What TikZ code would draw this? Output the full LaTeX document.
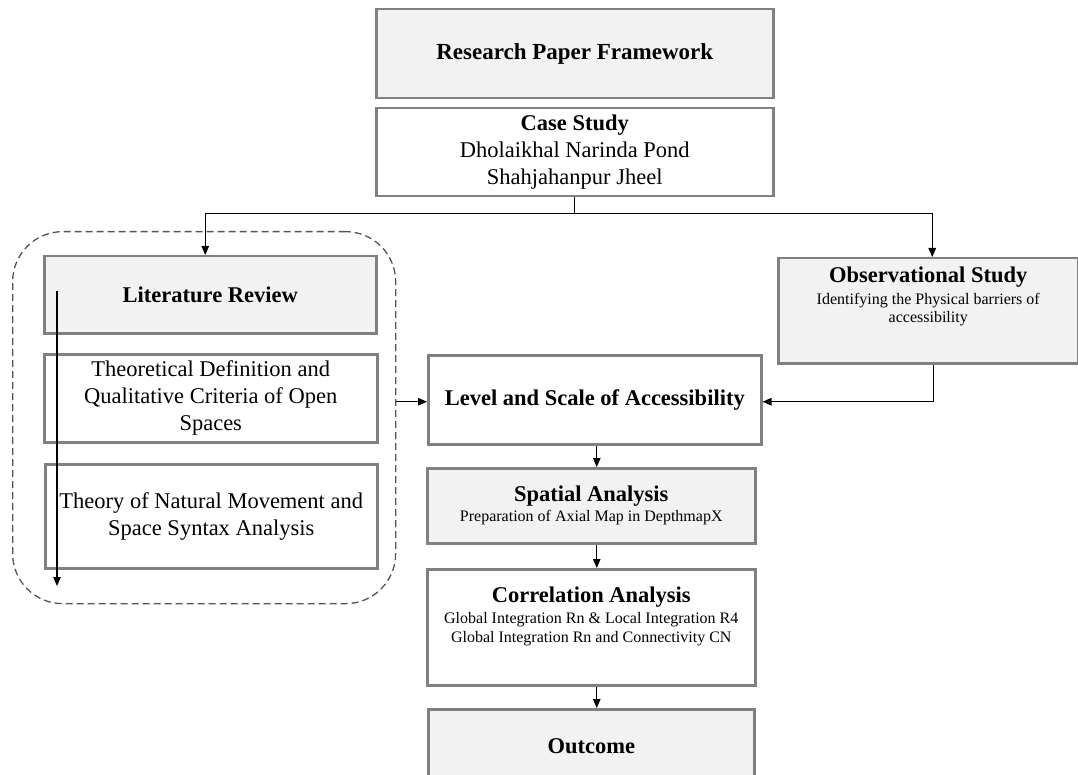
\documentclass[tikz,border=0pt]{standalone}
\usepackage{fontspec}
\setmainfont{Liberation Serif}
\usetikzlibrary{arrows.meta,calc}
\definecolor{boxgray}{HTML}{F2F2F2}
\definecolor{bordergray}{HTML}{808080}
\definecolor{dashgray}{HTML}{555555}
\newcommand{\bigtxt}{\fontsize{22.5}{27}\selectfont}
\newcommand{\titletxt}{\fontsize{23}{27}\selectfont}
\newcommand{\smalltxt}{\fontsize{16}{18.5}\selectfont}
\tikzset{
  box/.style={draw=bordergray, line width=2.5pt, fill=white, anchor=north west, inner sep=0pt, align=center, font=\bigtxt},
  graybox/.style={box, fill=boxgray},
  conn/.style={draw=black, line width=1.1pt, -{Triangle[length=9pt,width=7.5pt]}},
  plainline/.style={draw=black, line width=1.1pt},
  groupbox/.style={draw=dashgray, line width=1.3pt, dash pattern=on 7pt off 4pt, rounded corners=50pt, anchor=north west, inner sep=0pt},
  label/.style={inner sep=0pt, align=center, font=\smalltxt},
}
\begin{document}
\begin{tikzpicture}[x=1pt,y=-1pt]
\useasboundingbox (0,0) rectangle (1078,775);
\clip (0,0) rectangle (1078,775);

% dashed group
\node[groupbox, minimum width=383pt, minimum height=372pt] (grp) at (12,231) {};

% boxes
\node[graybox, minimum width=397pt, minimum height=89pt] (rpf) at (375,8) {\titletxt\bfseries Research Paper Framework};
\node[box, minimum width=397pt, minimum height=88pt] (case) at (375,107) {\textbf{Case Study}\\Dholaikhal Narinda Pond\\Shahjahanpur Jheel};
\node[graybox, minimum width=332pt, minimum height=77pt] (lit) at (43,255) {\bfseries Literature Review};
\node[box, minimum width=333pt, minimum height=88pt] (theo) at (43,353) {Theoretical Definition and\\Qualitative Criteria of Open\\Spaces};
\node[box, minimum width=332pt, minimum height=104pt] (thnm) at (44,463) {Theory of Natural Movement and\\Space Syntax Analysis};
\node[box, minimum width=333pt, minimum height=89pt] (level) at (427,354) {\bfseries Level and Scale of Accessibility};
\node[graybox, minimum width=300pt, minimum height=105pt] (obs) at (777,257) {};
\node[label, anchor=north] (obstxt) at ($(obs.north)+(0,10)$) {{\bigtxt\bfseries Observational Study}\\[3pt]Identifying the Physical barriers of\\accessibility};
\node[graybox, minimum width=328pt, minimum height=75pt, font=\smalltxt] (spatial) at (426,467) {{\bigtxt\bfseries Spatial Analysis}\\[1.5pt]Preparation of Axial Map in DepthmapX};
\node[box, minimum width=328pt, minimum height=116pt] (corr) at (426,568) {};
\node[label, anchor=north] (corrtxt) at ($(corr.north)+(0,19)$) {{\bigtxt\bfseries Correlation Analysis}\\[2.5pt]Global Integration Rn \& Local Integration R4\\[0.5pt]Global Integration Rn and Connectivity CN};
\node[graybox, minimum width=326pt, minimum height=74pt] (outcome) at (427,708) {\bfseries Outcome};

% connectors from case study
\coordinate (split) at ($(case.south)+(0,16)$);
\draw[plainline] (case.south) -- (split);
\draw[conn] (split) -| ($(lit.north)+(-5,0)$);
\draw[conn] (split) -| ($(obs.north)+(4,0)$);

% observational -> level
\draw[conn] ($(obs.south)+(5,0)$) |- ($(level.east)+(0,2)$);

% group -> level
\coordinate (lvin) at ($(level.west)+(0,2)$);
\draw[conn] (grp.east |- lvin) -- (lvin);

% vertical chain
\coordinate (ax) at ($(level.south)+(2,0)$);
\draw[conn] (ax) -- (ax |- spatial.north);
\draw[conn] (ax |- spatial.south) -- (ax |- corr.north);
\draw[conn] (ax |- corr.south) -- (ax |- outcome.north);

% vertical arrow in literature group
\coordinate (vtop) at (57,291);
\coordinate (vbot) at (57,586);
\draw[conn] (vtop) -- (vbot);
\end{tikzpicture}
\end{document}
